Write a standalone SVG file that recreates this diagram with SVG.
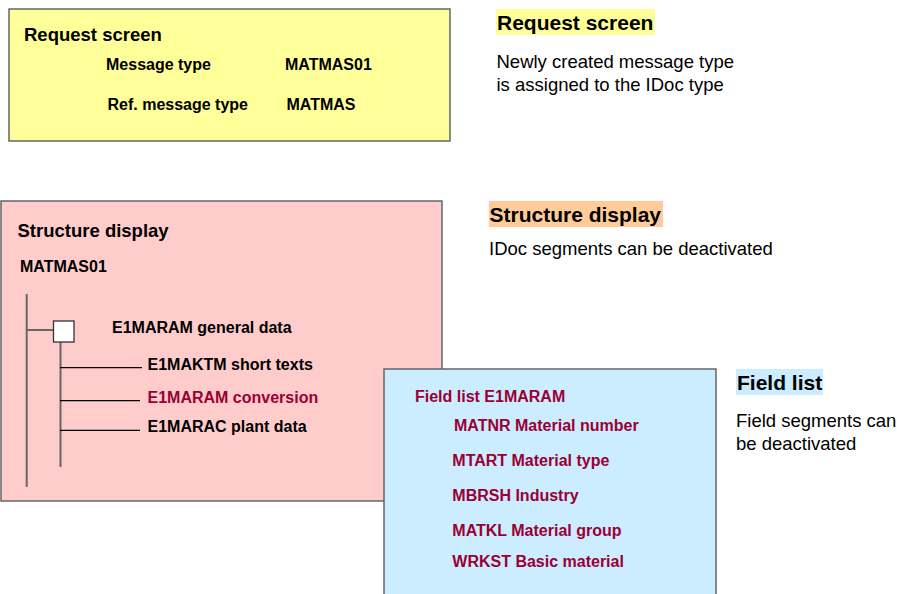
<svg xmlns="http://www.w3.org/2000/svg" width="897" height="594" viewBox="0 0 897 594">
<style>
text{font-family:"Liberation Sans",Arial,sans-serif;}
.box{stroke:#666;stroke-width:1.5;}
.h1{font-size:18.5px;font-weight:bold;fill:#000;}
.b{font-size:16px;font-weight:bold;fill:#000;}
.r{font-size:16px;font-weight:bold;fill:#990033;}
.hd{font-size:21px;font-weight:bold;fill:#000;}
.d{font-size:18.5px;fill:#000;}
.tree{stroke:#666;stroke-width:2;fill:none;}
.br{stroke:#000;stroke-width:1.3;fill:none;}
</style>
<rect width="897" height="594" fill="#fff"/>
<g id="request-screen">
<rect class="box" x="9" y="9" width="441" height="132" fill="#FFFF99"/>
<text class="h1" x="24" y="41">Request screen</text>
<text class="b" x="106" y="70">Message type</text>
<text class="b" x="285" y="70">MATMAS01</text>
<text class="b" x="107.5" y="110">Ref. message type</text>
<text class="b" x="286.5" y="110">MATMAS</text>
</g>
<g id="request-screen-note">
<rect x="496" y="9" width="159" height="26" fill="#FFFF99"/>
<text class="hd" x="497" y="30">Request screen</text>
<text class="d" x="496.5" y="68">Newly created message type</text>
<text class="d" x="496.5" y="91">is assigned to the IDoc type</text>
</g>
<g id="structure-display">
<rect class="box" x="1" y="201" width="441" height="300" fill="#FFCCCC"/>
<text class="h1" x="17.5" y="236.5">Structure display</text>
<text class="b" x="20" y="272">MATMAS01</text>
<text class="b" x="112" y="332.5">E1MARAM general data</text>
<text class="b" x="147.5" y="370">E1MAKTM short texts</text>
<text class="r" x="147.5" y="402.5">E1MARAM conversion</text>
<text class="b" x="147.5" y="431.5">E1MARAC plant data</text>
</g>
<g id="connectors">
<line class="tree" x1="26.7" y1="294" x2="26.7" y2="487"/>
<line class="tree" x1="26.7" y1="330" x2="53.5" y2="330"/>
<line class="tree" x1="60.5" y1="342" x2="60.5" y2="467"/>
<line class="br" x1="60" y1="367.7" x2="142" y2="367.7"/>
<line class="br" x1="60" y1="400.7" x2="140" y2="400.7"/>
<line class="br" x1="60" y1="430.3" x2="140" y2="430.3"/>
<rect x="53.5" y="321" width="20.5" height="21" fill="#fff" stroke="#333" stroke-width="1.3"/>
</g>
<g id="structure-display-note">
<rect x="489" y="201" width="174" height="26" fill="#FFCC99"/>
<text class="hd" x="489.5" y="221.5">Structure display</text>
<text class="d" x="489" y="255">IDoc segments can be deactivated</text>
</g>
<g id="field-list">
<rect class="box" x="384" y="369" width="332" height="240" fill="#CCECFF"/>
<text class="r" x="415" y="401.5">Field list E1MARAM</text>
<text class="r" x="454" y="430.5">MATNR Material number</text>
<text class="r" x="452.3" y="465.5">MTART Material type</text>
<text class="r" x="452.3" y="500.5">MBRSH Industry</text>
<text class="r" x="452.3" y="535.5">MATKL Material group</text>
<text class="r" x="452.3" y="566.5">WRKST Basic material</text>
</g>
<g id="field-list-note">
<rect x="736" y="369" width="87" height="26" fill="#CCECFF"/>
<text class="hd" x="737" y="390">Field list</text>
<text class="d" x="736" y="426.5">Field segments can</text>
<text class="d" x="736" y="450">be deactivated</text>
</g>
</svg>
